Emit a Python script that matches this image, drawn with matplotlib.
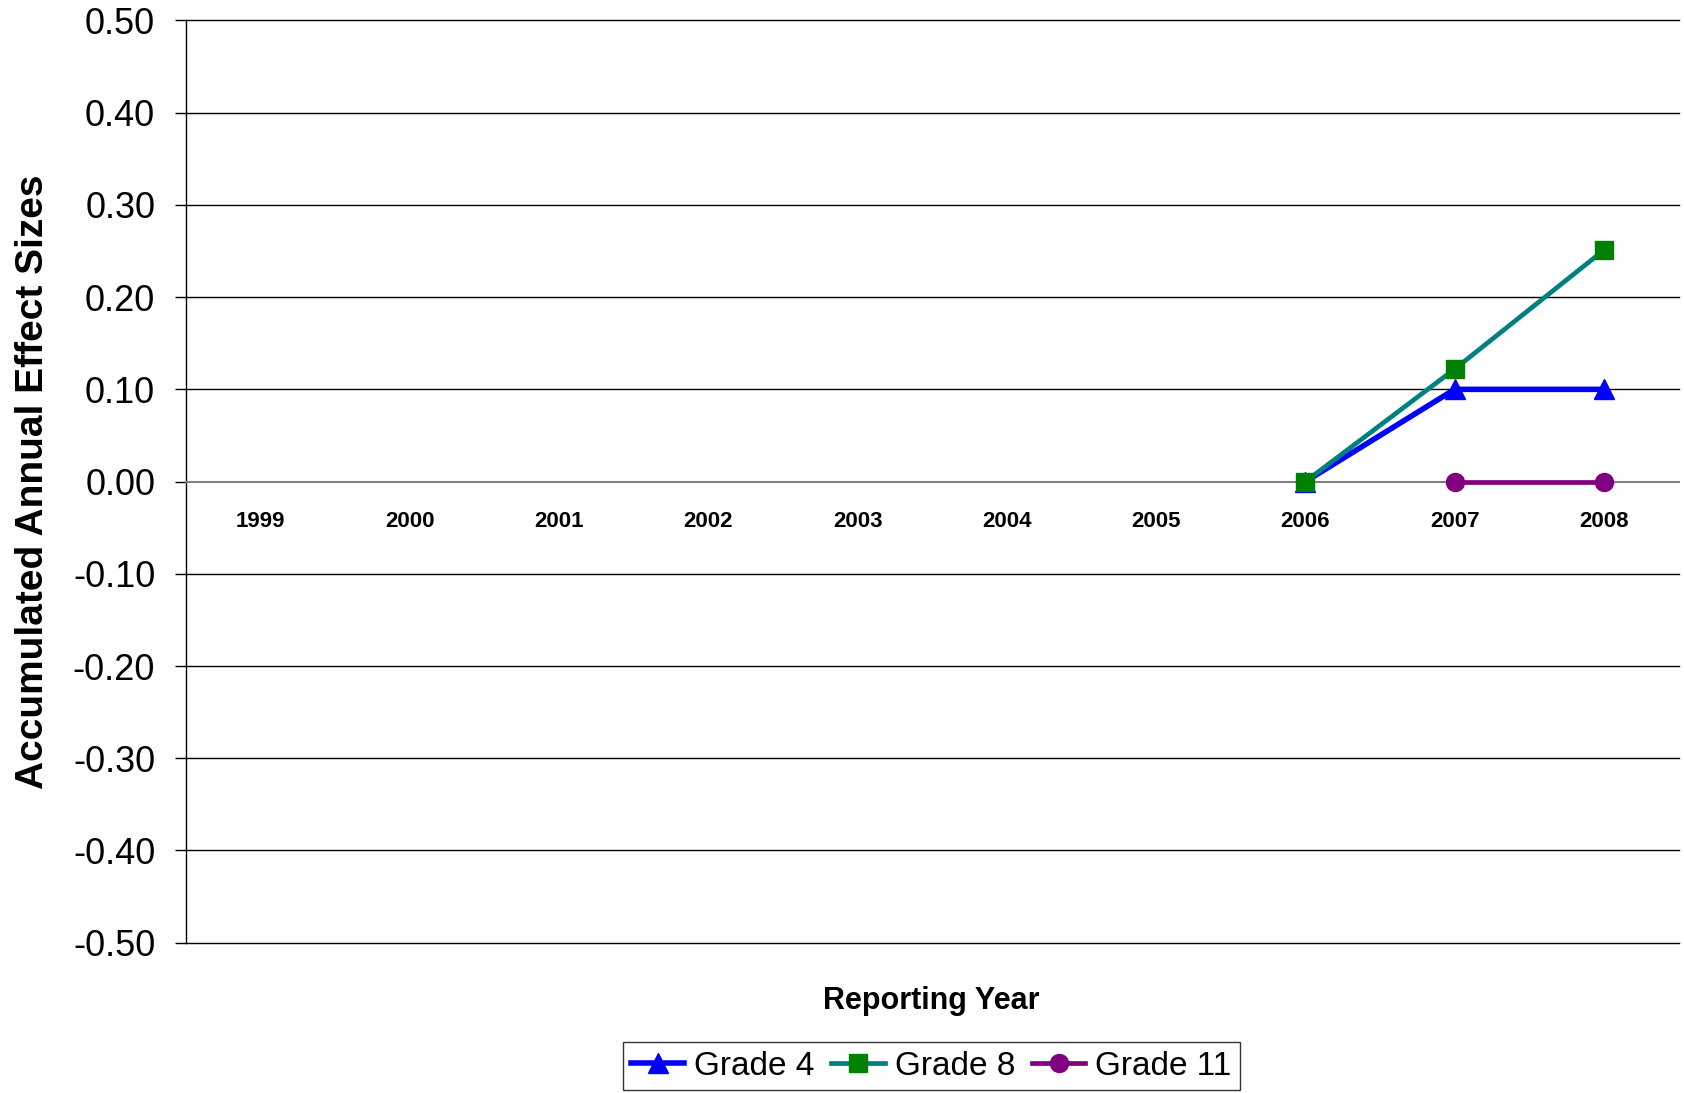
import matplotlib
matplotlib.use('Agg')
import matplotlib.pyplot as plt
import numpy as np

plt.rcParams['font.family'] = ['Liberation Sans', 'DejaVu Sans']

# Data
years = ['1999', '2000', '2001', '2002', '2003', '2004', '2005', '2006', '2007', '2008']
grade4 = [np.nan, np.nan, np.nan, np.nan, np.nan, np.nan, np.nan, 0.00, 0.10, 0.10]
grade8 = [np.nan, np.nan, np.nan, np.nan, np.nan, np.nan, np.nan, 0.00, 0.122, 0.251]
grade11 = [np.nan, np.nan, np.nan, np.nan, np.nan, np.nan, np.nan, np.nan, 0.00, 0.00]
yticks = [0.5, 0.4, 0.3, 0.2, 0.1, 0.0, -0.1, -0.2, -0.3, -0.4, -0.5]

fig = plt.figure(figsize=(16.84, 10.93), dpi=100)
ax = fig.add_axes([0.1103, 0.1375, 0.8865, 0.8438])

x = np.arange(len(years))

# gridlines
for v in yticks:
	if v != 0:
		ax.axhline(v, color='black', lw=1.0, zorder=1, clip_on=False)

ax.plot(x, grade11, color='#800080', lw=3.4, marker='o', ms=13, label='Grade 11', zorder=3)
ax.plot(x, grade4, color='#0000FF', lw=4.0, marker='^', ms=15, label='Grade 4', zorder=4)
ax.plot(x, grade8, color='#008080', lw=3.4, marker='s', ms=13, mfc='#008000', mec='#008000',
	label='Grade 8', zorder=5)

ax.set_xlim(-0.5, len(years) - 0.5)
ax.set_ylim(-0.5, 0.5)
ax.set_yticks(yticks)
ax.set_yticklabels(['{:.2f}'.format(v) for v in yticks], fontsize=26)
ax.tick_params(axis='y', length=8, width=1.0, pad=14)

ax.spines['bottom'].set_position(('data', 0))
ax.spines['bottom'].set_color('#808080')
ax.spines['bottom'].set_linewidth(1.5)
ax.spines['top'].set_visible(False)
ax.spines['right'].set_visible(False)
ax.spines['left'].set_linewidth(1.0)

ax.set_xticks(x)
ax.set_xticklabels(years, fontsize=16, fontweight='bold')
ax.tick_params(axis='x', length=0, pad=21)

ax.set_ylabel('Accumulated Annual Effect Sizes', fontsize=28, fontweight='bold')
ax.yaxis.set_label_coords(-0.090, 0.5)
fig.text(0.553, 0.0845, 'Reporting Year', ha='center', va='center', fontsize=22, fontweight='bold')

handles, labels = ax.get_legend_handles_labels()
order = [1, 2, 0]
leg = fig.legend([handles[i] for i in order], [labels[i] for i in order],
	loc='center', bbox_to_anchor=(0.553, 0.0246), ncol=3, fontsize=24,
	frameon=True, fancybox=False, edgecolor='black', handlelength=1.6,
	handletextpad=0.3, columnspacing=0.5, borderpad=0.25, borderaxespad=0)
leg.get_frame().set_linewidth(1.0)

fig.savefig('out.png', dpi=100)
